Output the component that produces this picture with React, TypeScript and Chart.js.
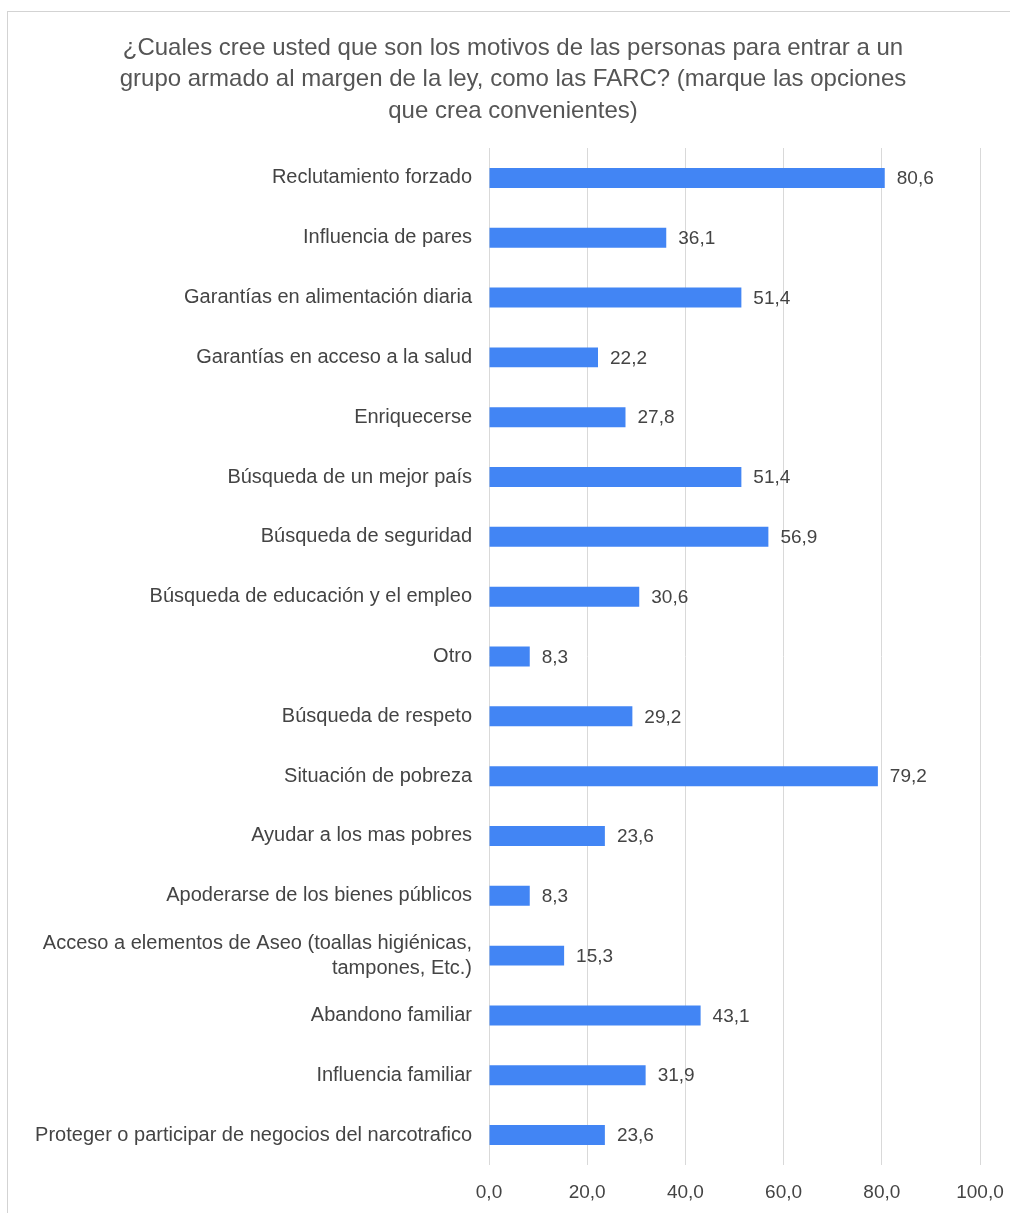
import React, { useEffect, useRef } from "react";
import { Chart, registerables } from "chart.js";

Chart.register(...registerables);

const titleLines = [
  "¿Cuales cree usted que son los motivos de las personas para entrar a un",
  "grupo armado al margen de la ley, como las FARC? (marque las opciones",
  "que crea convenientes)",
];

const categories: (string | string[])[] = [
  "Reclutamiento forzado",
  "Influencia de pares",
  "Garantías en alimentación diaria",
  "Garantías en acceso a la salud",
  "Enriquecerse",
  "Búsqueda de un mejor país",
  "Búsqueda de seguridad",
  "Búsqueda de educación y el empleo",
  "Otro",
  "Búsqueda de respeto",
  "Situación de pobreza",
  "Ayudar a los mas pobres",
  "Apoderarse de los bienes públicos",
  ["Acceso a elementos de Aseo (toallas higiénicas,", "tampones, Etc.)"],
  "Abandono familiar",
  "Influencia familiar",
  "Proteger o participar de negocios del narcotrafico",
];

const values = [80.6, 36.1, 51.4, 22.2, 27.8, 51.4, 56.9, 30.6, 8.3, 29.2, 79.2, 23.6, 8.3, 15.3, 43.1, 31.9, 23.6];

const axisMin = 0;
const axisMax = 100;
const axisStep = 20;

const FONT = "'Liberation Sans', Arial, sans-serif";
const fmt = (v: number) => v.toFixed(1).replace(".", ",");

const valueLabels = {
  id: "valueLabels",
  afterDatasetsDraw(chart: any) {
    const ctx = chart.ctx;
    const meta = chart.getDatasetMeta(0);
    ctx.save();
    ctx.font = `19px ${FONT}`;
    ctx.fillStyle = "#444444";
    ctx.textAlign = "left";
    ctx.textBaseline = "middle";
    meta.data.forEach((bar: any, i: number) => {
      ctx.fillText(fmt(values[i]), bar.x + 12, bar.y + 1);
    });
    ctx.restore();
  },
};

const titleDrawer = {
  id: "titleDrawer",
  afterDraw(chart: any) {
    const ctx = chart.ctx;
    ctx.save();
    ctx.font = `24px ${FONT}`;
    ctx.fillStyle = "#555555";
    ctx.textAlign = "center";
    ctx.textBaseline = "middle";
    titleLines.forEach((line, i) => {
      ctx.fillText(line, 513, 48 + i * 31.5);
    });
    ctx.restore();
  },
};

export default function App() {
  const ref = useRef<HTMLCanvasElement>(null);

  useEffect(() => {
    if (!ref.current) return;
    const chart = new Chart(ref.current, {
      type: "bar",
      data: {
        labels: categories,
        datasets: [
          {
            data: values,
            backgroundColor: "#4285F4",
            borderWidth: 0,
            categoryPercentage: 1,
            barPercentage: 0.334,
          },
        ],
      },
      plugins: [valueLabels, titleDrawer],
      options: {
        indexAxis: "y",
        animation: false,
        responsive: false,
        maintainAspectRatio: false,
        devicePixelRatio: 1,
        layout: { padding: { left: 0, right: 30, top: 148, bottom: 0 } },
        plugins: {
          legend: { display: false },
          tooltip: { enabled: false },
          title: { display: false },
        },
        scales: {
          x: {
            min: axisMin,
            max: axisMax,
            ticks: {
              stepSize: axisStep,
              color: "#444444",
              font: { family: FONT, size: 19 },
              padding: 16,
              callback: (v: any) => fmt(Number(v)),
            },
            grid: { color: "#d9d9d9", lineWidth: 1, drawTicks: false },
            border: { display: false },
            afterFit: (scale: any) => {
              scale.height = 48;
              scale.paddingLeft = 0;
              scale.paddingRight = 0;
            },
          },
          y: {
            ticks: {
              color: "#444444",
              font: { family: FONT, size: 20, lineHeight: 1.25 },
              padding: 17,
              autoSkip: false,
            },
            grid: { display: false, drawTicks: false },
            border: { display: false },
            afterFit: (scale: any) => {
              scale.width = 489;
              scale.paddingTop = 0;
              scale.paddingBottom = 0;
            },
          },
        },
      },
    });
    return () => chart.destroy();
  }, []);

  return (
    <div
      style={{
        position: "absolute",
        left: 0,
        top: 0,
        width: 1010,
        height: 1213,
        overflow: "hidden",
        background: "#ffffff",
      }}
    >
      <div
        style={{
          position: "absolute",
          left: 7,
          top: 11,
          width: 1100,
          height: 1300,
          border: "1px solid #d3d3d3",
        }}
      />
      <canvas ref={ref} width={1010} height={1213} style={{ position: "absolute", left: 0, top: 0, width: 1010, height: 1213 }} />
    </div>
  );
}
